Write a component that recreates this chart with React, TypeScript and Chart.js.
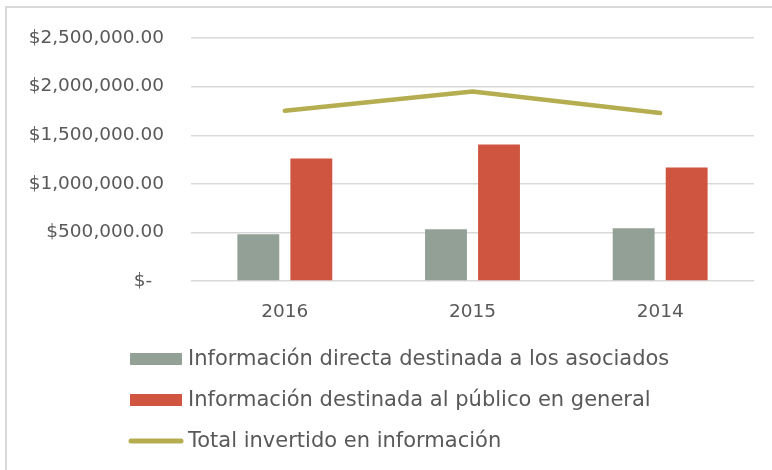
import React, { useEffect, useRef } from "react";
import { Chart, registerables } from "chart.js";

Chart.register(...registerables);

const categories = ["2016", "2015", "2014"];
const seriesLabels = [
  "Información directa destinada a los asociados",
  "Información destinada al público en general",
  "Total invertido en información",
];
const directaValues = [481000, 533000, 543000];
const publicoValues = [1260000, 1404000, 1168000];
const totalValues = [1752000, 1950000, 1728000];
const yTickValues = [0, 500000, 1000000, 1500000, 2000000, 2500000];

const COLORS = ["#92A096", "#CF5540", "#B5AE50"];
const TEXT = "#595959";
const GRID = "#D9D9D9";
const FONT = "'DejaVu Sans', sans-serif";

function formatMoney(v: number): string {
  if (v === 0) return "$-  ";
  const s = Math.round(v).toString().replace(/\B(?=(\d{3})+(?!\d))/g, ",");
  return "$" + s + ".00";
}

const legendPlugin = {
  id: "customLegend",
  afterDraw(chart: any) {
    const ctx = chart.ctx;
    const rows = [359, 400, 441];
    ctx.save();
    chart.data.datasets.forEach((ds: any, i: number) => {
      const y = rows[i];
      if (ds.type === "line") {
        ctx.strokeStyle = ds.borderColor;
        ctx.lineWidth = 5;
        ctx.lineCap = "round";
        ctx.beginPath();
        ctx.moveTo(131, y);
        ctx.lineTo(181, y);
        ctx.stroke();
      } else {
        ctx.fillStyle = ds.backgroundColor;
        ctx.fillRect(130, y - 6, 52, 12);
      }
      ctx.fillStyle = TEXT;
      ctx.font = "21px " + FONT;
      ctx.textAlign = "left";
      ctx.textBaseline = "middle";
      ctx.fillText(ds.label, 188, y + 1);
    });
    ctx.restore();
  },
};

export default function App() {
  const ref = useRef<HTMLCanvasElement | null>(null);
  useEffect(() => {
    if (!ref.current) return;
    const chart = new Chart(ref.current, {
      type: "bar",
      data: {
        labels: categories,
        datasets: [
          {
            type: "bar",
            label: seriesLabels[0],
            data: directaValues,
            backgroundColor: COLORS[0],
            categoryPercentage: 0.565,
            barPercentage: 0.79,
            order: 1,
          },
          {
            type: "bar",
            label: seriesLabels[1],
            data: publicoValues,
            backgroundColor: COLORS[1],
            categoryPercentage: 0.565,
            barPercentage: 0.79,
            order: 1,
          },
          {
            type: "line",
            label: seriesLabels[2],
            data: totalValues,
            borderColor: COLORS[2],
            backgroundColor: COLORS[2],
            borderWidth: 4.5,
            borderCapStyle: "round",
            borderJoinStyle: "round",
            pointRadius: 0,
            tension: 0,
            order: 0,
          } as any,
        ],
      },
      options: {
        responsive: false,
        devicePixelRatio: 1,
        animation: false,
        layout: { padding: { left: 0, right: 18, top: 37, bottom: 139 } },
        plugins: {
          legend: { display: false },
          tooltip: { enabled: false },
        },
        scales: {
          x: {
            grid: { display: false, drawTicks: false },
            border: { display: false },
            ticks: { color: TEXT, font: { family: FONT, size: 18.5 }, padding: 20 },
            afterFit: (s: any) => {
              s.height = 50;
            },
          },
          y: {
            min: 0,
            max: 2500000,
            afterBuildTicks: (s: any) => {
              s.ticks = yTickValues.map((v) => ({ value: v }));
            },
            grid: { color: GRID, lineWidth: 1.5, drawTicks: false },
            border: { display: false },
            ticks: {
              color: TEXT,
              font: { family: FONT, size: 18.5 },
              padding: 27,
              callback: (v: any) => formatMoney(Number(v)),
            },
            afterFit: (s: any) => {
              s.width = 191;
            },
          },
        },
      },
      plugins: [legendPlugin],
    } as any);
    return () => chart.destroy();
  }, []);

  return (
    <div
      style={{
        position: "fixed",
        left: 0,
        top: 0,
        width: 772,
        height: 470,
        background: "#fff",
        overflow: "hidden",
      }}
    >
      <div
        style={{
          position: "absolute",
          left: 5,
          top: 6,
          width: 780,
          height: 480,
          borderLeft: `2px solid ${GRID}`,
          borderTop: `2px solid ${GRID}`,
        }}
      />
      <canvas ref={ref} width={772} height={470} style={{ position: "absolute", left: 0, top: 0 }} />
    </div>
  );
}
